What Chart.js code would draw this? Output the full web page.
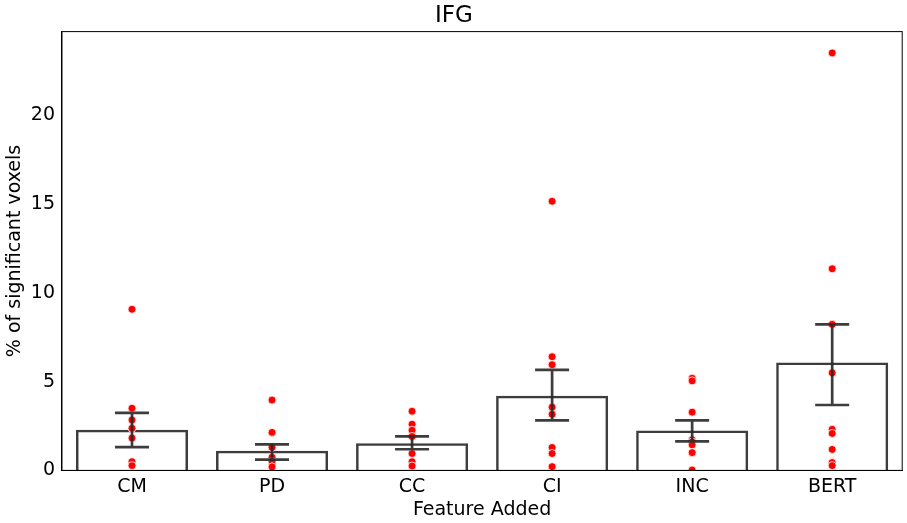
<!DOCTYPE html>
<html>
<head>
<meta charset="utf-8">
<script src="https://cdn.jsdelivr.net/npm/chart.js@4"></script>
<style>
  body { margin: 0; background: #fff; }
  #wrap { width: 907px; height: 523px; }
</style>
</head>
<body>
<div id="wrap"><canvas id="chart"></canvas></div>
<script>
const categories = ['CM', 'PD', 'CC', 'CI', 'INC', 'BERT'];
const means = [2.29, 1.1, 1.53, 4.2, 2.25, 6.08];
const errLow = [1.31, 0.61, 1.19, 2.82, 1.63, 3.68];
const errHigh = [3.24, 1.46, 1.91, 5.66, 2.82, 8.22];
const subjects = [
  [9.07, 3.5, 2.84, 2.37, 1.82, 0.49, 0.27],
  [3.96, 2.14, 1.29, 0.74, 0.49, 0.2],
  [3.33, 2.6, 2.26, 1.91, 0.95, 0.49, 0.25],
  [15.15, 6.4, 5.95, 3.56, 3.16, 1.29, 0.95, 0.21],
  [5.19, 5.04, 3.28, 1.72, 1.6, 1.44, 1.0, 0.02],
  [23.5, 11.35, 8.22, 5.49, 2.31, 2.08, 1.18, 0.44, 0.27]
];
const yTicks = [0, 5, 10, 15, 20];

const dots = [];
subjects.forEach((vals, i) => vals.forEach(v => dots.push({ x: categories[i], y: v })));

const errorBars = {
  id: 'errorBars',
  afterDatasetsDraw(chart) {
    const ctx = chart.ctx;
    const x = chart.scales.x, y = chart.scales.y;
    ctx.save();
    ctx.strokeStyle = 'rgba(40,40,40,0.9)';
    ctx.lineWidth = 2.7;
    categories.forEach((c, i) => {
      const px = x.getPixelForValue(i);
      const lo = y.getPixelForValue(errLow[i]);
      const hi = y.getPixelForValue(errHigh[i]);
      ctx.beginPath();
      ctx.moveTo(px, lo); ctx.lineTo(px, hi);
      ctx.moveTo(px - 17, lo); ctx.lineTo(px + 17, lo);
      ctx.moveTo(px - 17, hi); ctx.lineTo(px + 17, hi);
      ctx.stroke();
    });
    ctx.restore();
  }
};

const frame = {
  id: 'frame',
  afterDraw(chart) {
    const a = chart.chartArea, ctx = chart.ctx;
    ctx.save();
    ctx.strokeStyle = '#000';
    ctx.lineWidth = 1;
    ctx.strokeRect(a.left, a.top, a.right - a.left, a.bottom - a.top);
    ctx.restore();
  }
};

new Chart(document.getElementById('chart'), {
  data: {
    labels: categories,
    datasets: [
      {
        type: 'scatter',
        data: dots,
        backgroundColor: '#ff0000',
        borderColor: '#ffffff',
        borderWidth: 0.8,
        pointRadius: 4,
        order: 0
      },
      {
        type: 'bar',
        data: means,
        backgroundColor: 'rgba(255,255,255,0)',
        borderColor: 'rgba(40,40,40,0.9)',
        borderWidth: 2.5,
        categoryPercentage: 1,
        barPercentage: 0.8,
        order: 1
      }
    ]
  },
  options: {
    responsive: true,
    maintainAspectRatio: false,
    animation: false,
    layout: { padding: { top: 2, right: 3, left: 4, bottom: 2 } },
    plugins: {
      legend: { display: false },
      tooltip: { enabled: false },
      title: {
        display: true,
        text: 'IFG',
        color: '#000',
        font: { family: 'DejaVu Sans', size: 23, weight: 'normal' },
        padding: { top: 0, bottom: 2 }
      }
    },
    scales: {
      x: {
        type: 'category',
        offset: true,
        grid: { display: false, drawTicks: true, tickLength: 5, tickColor: '#000' },
        border: { color: '#000' },
        ticks: { color: '#000', font: { family: 'DejaVu Sans', size: 19 }, padding: 0 },
        title: {
          display: true, text: 'Feature Added', color: '#000',
          font: { family: 'DejaVu Sans', size: 19 }, padding: { top: 0, bottom: 0 }
        }
      },
      y: {
        min: 0,
        max: 24.7,
        afterBuildTicks(axis) { axis.ticks = yTicks.map(v => ({ value: v })); },
        grid: { display: false, drawTicks: true, tickLength: 5, tickColor: '#000' },
        border: { color: '#000' },
        ticks: { color: '#000', font: { family: 'DejaVu Sans', size: 19 }, padding: 2 },
        title: {
          display: true, text: '% of significant voxels', color: '#000',
          font: { family: 'DejaVu Sans', size: 19 }, padding: { top: 0, bottom: 2 }
        }
      }
    }
  },
  plugins: [errorBars, frame]
});
</script>
</body>
</html>
